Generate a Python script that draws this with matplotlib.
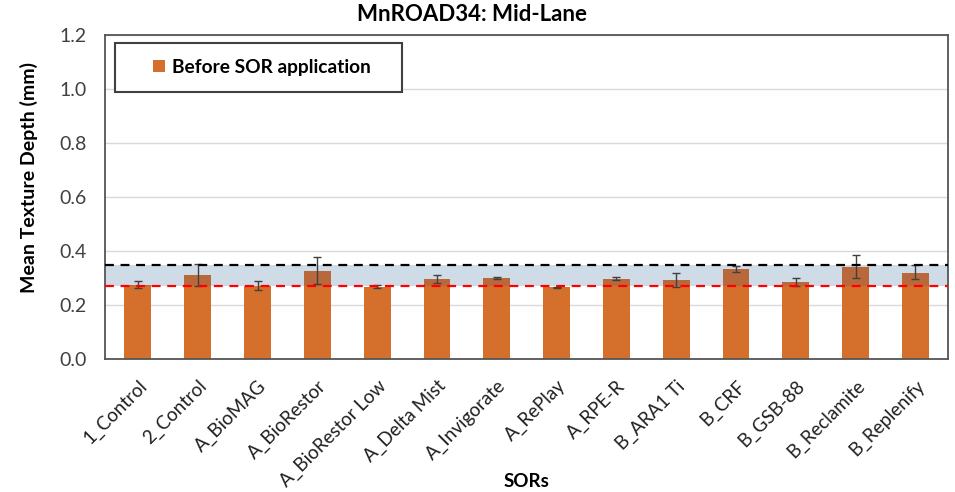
import matplotlib
matplotlib.use("Agg")
import matplotlib.pyplot as plt
from matplotlib.patches import Rectangle
import numpy as np

plt.rcParams["font.family"] = ["Lato", "DejaVu Sans"]

sors = ["1_Control", "2_Control", "A_BioMAG", "A_BioRestor", "A_BioRestor Low",
        "A_Delta Mist", "A_Invigorate", "A_RePlay", "A_RPE-R", "B_ARA1 Ti",
        "B_CRF", "B_GSB-88", "B_Reclamite", "B_Replenify"]
mtd_before = [0.276, 0.313, 0.272, 0.327, 0.268, 0.296, 0.302,
              0.266, 0.298, 0.294, 0.333, 0.287, 0.341, 0.320]
err_low = [0.264, 0.272, 0.255, 0.280, 0.263, 0.283, 0.298,
           0.264, 0.292, 0.267, 0.322, 0.272, 0.302, 0.295]
err_high = [0.290, 0.354, 0.290, 0.378, 0.273, 0.311, 0.305,
            0.268, 0.304, 0.320, 0.345, 0.302, 0.384, 0.347]
upper_limit = 0.347
lower_limit = 0.272

x = np.arange(len(sors))
yerr = [np.array(mtd_before) - np.array(err_low),
        np.array(err_high) - np.array(mtd_before)]

fig, ax = plt.subplots(figsize=(9.55, 4.92), dpi=100)
fig.subplots_adjust(left=0.110, right=0.993, top=0.929, bottom=0.270)

# shaded range behind the bars, bars look darker where they sit inside it
band = ax.axhspan(lower_limit, upper_limit, color="#cfdbe7", zorder=1, lw=0)
ax.bar(x, mtd_before, width=0.45, color="#d4702c", zorder=2,
       label="Before SOR application")
shaded = ax.bar(x, mtd_before, width=0.45, color="#b8683a", zorder=2.5)
for b in shaded:
    b.set_clip_path(band)
ax.errorbar(x, mtd_before, yerr=yerr, fmt="none", ecolor="#404040",
            elinewidth=1, capsize=3, capthick=1, zorder=3)

ax.axhline(upper_limit, color="black", ls=(0, (4, 3)), lw=1.6, zorder=5)
ax.axhline(lower_limit, color="#ff0000", ls=(0, (4, 3)), lw=1.6, zorder=5)

ticks = np.arange(0, 1.21, 0.2)
ax.set_ylim(0, 1.2)
ax.set_yticks(ticks)
ax.set_yticklabels([f"{v:.1f}" for v in ticks], fontsize=14, color="#404040")
ax.set_xlim(-0.55, len(sors) - 0.45)
ax.set_xticks(x)
ax.set_xticklabels(sors, rotation=45, ha="right", rotation_mode="anchor",
                   fontsize=13.5, color="#202020")
ax.tick_params(axis="y", length=0, pad=13)
ax.tick_params(axis="x", length=0, pad=13)
ax.grid(axis="y", color="#d9d9d9", lw=1, zorder=0)
ax.set_axisbelow(True)
for s in ax.spines.values():
    s.set_color("#555555")
    s.set_linewidth(1.3)

fig.text(0.494, 0.958, "MnROAD34: Mid-Lane", ha="center", va="baseline",
         fontsize=16, fontweight="bold")
ax.set_xlabel("SORs", fontsize=13.5, fontweight="bold")
ax.xaxis.set_label_coords(0.5, -0.35)
ax.set_ylabel("Mean Texture Depth (mm)", fontsize=14, fontweight="bold")
ax.yaxis.set_label_coords(-0.079, 0.56)

box = Rectangle((0.012, 0.824), 0.340, 0.151, transform=ax.transAxes,
                facecolor="white", edgecolor="#404040", lw=1.5, zorder=6)
ax.add_patch(box)
leg = ax.legend(loc="center left", bbox_to_anchor=(0.057, 0.8995),
                prop={"weight": "bold", "size": 13.8}, frameon=False,
                borderpad=0, borderaxespad=0, handlelength=0.6, handleheight=0.6,
                handletextpad=0.4)
leg.set_zorder(7)

fig.savefig("out.png", dpi=100)
